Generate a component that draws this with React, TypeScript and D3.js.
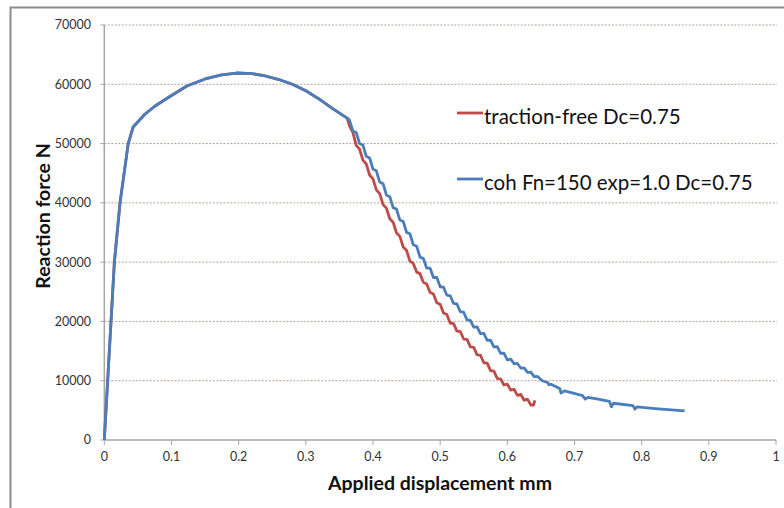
import React from "react";
import * as d3 from "d3";

// Shared loading branch (both runs coincide up to the kink)
const loadingDisp = [0, 0.005, 0.01, 0.015, 0.0234, 0.0356, 0.043, 0.06, 0.075, 0.1, 0.123, 0.15, 0.175, 0.197, 0.22, 0.24, 0.26, 0.28, 0.3, 0.32, 0.34, 0.3615];
const loadingForce = [0, 10000, 20000, 30000, 40000, 50000, 52800, 54900, 56300, 58100, 59700, 60900, 61600, 61900, 61800, 61400, 60800, 60000, 58900, 57500, 55900, 54300];

// Softening branch: traction-free Dc=0.75
const tractionFreeDisp = [0.365, 0.37, 0.375, 0.38, 0.385, 0.39, 0.395, 0.4, 0.405, 0.41, 0.415, 0.42, 0.425, 0.43, 0.435, 0.44, 0.445, 0.45, 0.455, 0.46, 0.465, 0.47, 0.475, 0.48, 0.485, 0.49, 0.495, 0.5, 0.505, 0.51, 0.515, 0.52, 0.525, 0.53, 0.535, 0.54, 0.545, 0.55, 0.555, 0.56, 0.565, 0.57, 0.575, 0.58, 0.585, 0.59, 0.595, 0.6, 0.605, 0.61, 0.615, 0.62, 0.625, 0.63, 0.635, 0.639, 0.641];
const tractionFreeForce = [53000, 51900, 49700, 49050, 47200, 46550, 44700, 44050, 42200, 41550, 39700, 39110, 37320, 36730, 34940, 34350, 32560, 31970, 30180, 29780, 28320, 28060, 26600, 26330, 24870, 24610, 23150, 22890, 21420, 21160, 19700, 19630, 18370, 18300, 17030, 16970, 15700, 15630, 14370, 14300, 13030, 12970, 11700, 11630, 10370, 10300, 9280, 9430, 8400, 8560, 7530, 7690, 6700, 6900, 5900, 5900, 6700];

// Softening branch: cohesive Fn=150 exp=1.0 Dc=0.75
const cohesiveDisp = [0.365, 0.37, 0.375, 0.38, 0.385, 0.39, 0.395, 0.4, 0.405, 0.41, 0.415, 0.42, 0.425, 0.43, 0.435, 0.44, 0.445, 0.45, 0.455, 0.46, 0.465, 0.47, 0.475, 0.48, 0.485, 0.49, 0.495, 0.5, 0.505, 0.51, 0.515, 0.52, 0.525, 0.53, 0.535, 0.54, 0.545, 0.55, 0.555, 0.56, 0.565, 0.57, 0.575, 0.58, 0.585, 0.59, 0.595, 0.6, 0.605, 0.61, 0.615, 0.62, 0.625, 0.63, 0.635, 0.64, 0.645, 0.652, 0.66, 0.662, 0.665, 0.678, 0.68, 0.685, 0.698, 0.712, 0.716, 0.72, 0.735, 0.752, 0.755, 0.758, 0.787, 0.79, 0.793, 0.82, 0.864];
const cohesiveForce = [53970, 52120, 51870, 50020, 49750, 47860, 47570, 45690, 45400, 43510, 43230, 41340, 41050, 39180, 38940, 37100, 36860, 35020, 34780, 32930, 32690, 30850, 30610, 28975, 28990, 27410, 27430, 25850, 25770, 24420, 24330, 23030, 22940, 21640, 21550, 20260, 20190, 19040, 19080, 17930, 17970, 16820, 16860, 15710, 15760, 14600, 14650, 13500, 13630, 12870, 12900, 12140, 12170, 11410, 11440, 10680, 10710, 10000, 9700, 9300, 9400, 8700, 7900, 8300, 7900, 7500, 6900, 7200, 6900, 6500, 5600, 6200, 5800, 5200, 5600, 5300, 4900];

const xTicks = [0, 0.1, 0.2, 0.3, 0.4, 0.5, 0.6, 0.7, 0.8, 0.9, 1];
const yTicks = [0, 10000, 20000, 30000, 40000, 50000, 60000, 70000];

const seriesNames = ["traction-free Dc=0.75", "coh Fn=150 exp=1.0 Dc=0.75"];
const seriesColors = ["#be4b48", "#4a7ebb"];

export default function App() {
  const W = 784, H = 508;
  const x = d3.scaleLinear().domain([0, 1]).range([104.3, 776]);
  const y = d3.scaleLinear().domain([0, 70000]).range([440, 25]);
  const line = d3.line<[number, number]>().x(d => x(d[0])).y(d => y(d[1]));

  const load: [number, number][] = loadingDisp.map((d, i) => [d, loadingForce[i]]);
  const red: [number, number][] = load.concat(tractionFreeDisp.map((d, i) => [d, tractionFreeForce[i]] as [number, number]));
  const blue: [number, number][] = load.concat(cohesiveDisp.map((d, i) => [d, cohesiveForce[i]] as [number, number]));
  const font = "Lato, 'Open Sans', sans-serif";

  return (
    <svg width={W} height={H} style={{ position: "absolute", left: 0, top: 0, background: "#fff" }} fontFamily={font}>
      <rect x={0} y={0} width={W} height={H} fill="#fff" />
      <path d={`M10.5,${H} L10.5,7.5 L${W},7.5`} fill="none" stroke="#8c8c8c" strokeWidth={2} />
      {yTicks.filter(t => t > 0).map(t => (
        <line key={t} x1={x(0)} x2={777} y1={y(t)} y2={y(t)} stroke="#b3a39c" strokeWidth={1} strokeDasharray="2,1.5" />
      ))}
      <line x1={x(0)} x2={x(0)} y1={y(70000)} y2={y(0)} stroke="#a6a6a6" strokeWidth={1.5} />
      <line x1={x(0)} x2={x(1)} y1={y(0)} y2={y(0)} stroke="#a6a6a6" strokeWidth={1.5} />
      {yTicks.map(t => (
        <g key={t}>
          <line x1={x(0) - 4} x2={x(0)} y1={y(t)} y2={y(t)} stroke="#a6a6a6" strokeWidth={1} />
          <text x={91} y={y(t)} dy="0.35em" textAnchor="end" fontSize={12.5} fill="#333">{t}</text>
        </g>
      ))}
      {xTicks.map(t => (
        <g key={t}>
          <line x1={x(t)} x2={x(t)} y1={y(0)} y2={y(0) + 5} stroke="#a6a6a6" strokeWidth={1} />
          <text x={x(t)} y={461} textAnchor="middle" fontSize={12.5} fill="#333">{t}</text>
        </g>
      ))}
      <path d={line(red) || ""} fill="none" stroke={seriesColors[0]} strokeWidth={2.8} strokeLinejoin="round" />
      <path d={line(blue) || ""} fill="none" stroke={seriesColors[1]} strokeWidth={2.8} strokeLinejoin="round" />
      <text x={440} y={490} textAnchor="middle" fontSize={19.5} fontWeight="bold" fill="#111">Applied displacement mm</text>
      <text transform="translate(50,216) rotate(-90)" textAnchor="middle" fontSize={19.5} fontWeight="bold" fill="#111">Reaction force N</text>
      {seriesNames.map((n, i) => (
        <g key={n}>
          <line x1={457} x2={483} y1={i === 0 ? 113 : 179} y2={i === 0 ? 113 : 179} stroke={seriesColors[i]} strokeWidth={2.8} />
          <text x={484} y={i === 0 ? 124 : 190} fontSize={20.5} fill="#111">{n}</text>
        </g>
      ))}
    </svg>
  );
}
